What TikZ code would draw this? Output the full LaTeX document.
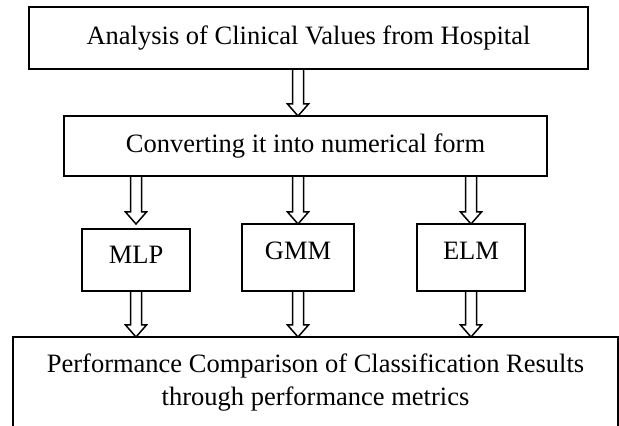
\documentclass[tikz,border=0pt]{standalone}
\usepackage{fontspec}
\setmainfont{Liberation Serif}
\usetikzlibrary{positioning,calc}

\begin{document}
\begin{tikzpicture}[
  x=1pt, y=1pt,
  font=\fontsize{26.5}{33}\selectfont,
  every node/.style={align=center},
  box/.style  ={rectangle, draw=black, line width=1.6pt, outer sep=0pt, inner sep=2pt},
  model/.style={box, minimum width=108pt, minimum height=67pt},
  harrow/.style={draw=black, line width=1.5pt, line join=miter,
    to path={let \p1=(\tikztostart), \p2=(\tikztotarget) in
      (\x1-5.5pt,\y1) -- (\x1-5.5pt,\y2+12pt) -- (\x1-10.5pt,\y2+12pt) -- (\x1,\y2)
      -- (\x1+10.5pt,\y2+12pt) -- (\x1+5.5pt,\y2+12pt) -- (\x1+5.5pt,\y1)}},
]
\useasboundingbox (0,0) rectangle (619,426);

% -------- data and preprocessing ------------------------------------------
\node[box, minimum width=559pt, minimum height=62pt] (clinical) at (308.5,388)
  {Analysis of Clinical Values from Hospital};
\node[box, minimum width=483pt, minimum height=60pt,
      below=47pt of clinical, xshift=-3pt] (numeric)
  {Converting it into numerical form};

% -------- classifiers -----------------------------------------------------
\node[model, minimum width=112pt, below=48pt of numeric, xshift=-7.5pt,
      text depth=14pt] (gmm) {GMM};
\node[model, minimum height=62pt, left=52pt of gmm, yshift=-2.5pt,
      text depth=10pt] (mlp) {MLP};
\node[model, right=63pt of gmm, text depth=14pt] (elm) {ELM};

% -------- comparison ------------------------------------------------------
\node[box, minimum width=605pt, minimum height=91pt,
      below=46pt of gmm, xshift=17.5pt] (compare)
  {Performance Comparison of Classification Results\\through performance metrics};

% -------- arrows ----------------------------------------------------------
\draw[harrow] (gmm |- clinical.south) to (gmm |- numeric.north);
\foreach \m in {mlp, gmm, elm}
  \draw[harrow] (\m |- numeric.south) to (\m |- gmm.north);
\foreach \m in {mlp, gmm, elm}
  \draw[harrow] (\m |- gmm.south) to (\m |- compare.north);

\end{tikzpicture}
\end{document}
